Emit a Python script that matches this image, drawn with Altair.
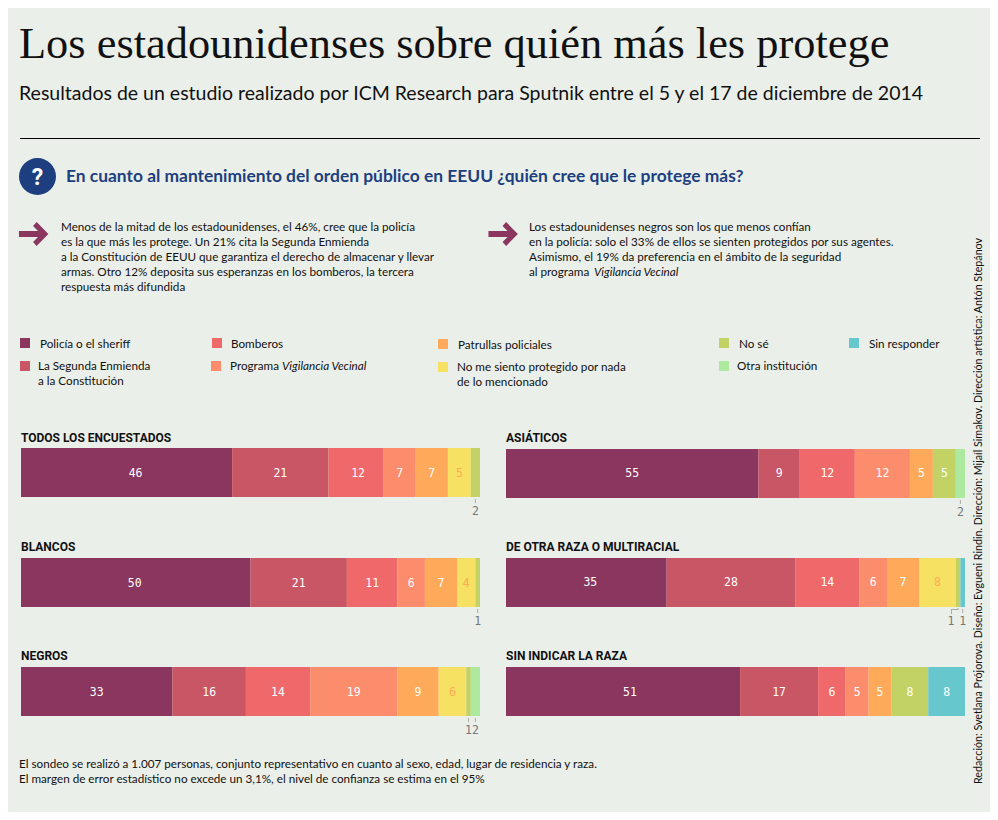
import altair as alt
import pandas as pd

BG = "#ebefe9"
categories = ["Policía o el sheriff", "La Segunda Enmienda a la Constitución", "Bomberos",
              "Programa Vigilancia Vecinal", "Patrullas policiales",
              "No me siento protegido por nada de lo mencionado", "No sé",
              "Otra institución", "Sin responder"]
colors = ["#8a365e", "#c95665", "#ef696b", "#fb8d6c", "#ffa95a", "#f6e162", "#c2d264", "#aee9a0", "#66c8cc"]

todos = [46, 21, 12, 7, 7, 5, 2, 0, 0]
asiaticos = [55, 9, 12, 12, 5, 0, 5, 2, 0]
blancos = [50, 21, 11, 6, 7, 4, 1, 0, 0]
otra_raza = [35, 28, 14, 6, 7, 8, 1, 0, 1]
negros = [33, 16, 14, 19, 9, 6, 1, 2, 0]
sin_indicar = [51, 17, 6, 5, 5, 0, 8, 0, 8]

# title, values, left, bar top, title baseline, label centre, per-category label nudges (in px)
panels = [
    ("TODOS LOS ENCUESTADOS", todos, 21, 448, 442, 474, {0: 9, 2: 2}),
    ("BLANCOS", blancos, 21, 558, 551, 584, {0: -1}),
    ("NEGROS", negros, 21, 667, 660, 693, {}),
    ("ASIÁTICOS", asiaticos, 506, 449, 442, 474, {}),
    ("DE OTRA RAZA O MULTIRACIAL", otra_raza, 506, 558, 551, 583, {0: 4}),
    ("SIN INDICAR LA RAZA", sin_indicar, 506, 667, 660, 693, {0: 7}),
]

OFF = 8
W, H = 982, 804
BODY = "Lato"
SERIF = "Liberation Serif"
HEAD = "Roboto"
BS = 11.7

one = alt.Data(values=[{"a": 1}])
layers = []


def txt(s, x, y, size=BS, font=BODY, color="#111111", **kw):
    layers.append(alt.Chart(one).mark_text(text=s, font=font, fontSize=size, color=color,
                                           align=kw.pop("align", "left"), baseline="alphabetic", **kw)
                  .encode(x=alt.value(x - OFF), y=alt.value(y - OFF)))


def rect(x, y, x2, y2, color):
    layers.append(alt.Chart(one).mark_rect(color=color)
                  .encode(x=alt.value(x - OFF), x2=alt.value(x2 - OFF),
                          y=alt.value(y - OFF), y2=alt.value(y2 - OFF)))


def hline(x, x2, y, color="#000000", w=1):
    layers.append(alt.Chart(one).mark_rule(color=color, strokeWidth=w)
                  .encode(x=alt.value(x - OFF), x2=alt.value(x2 - OFF), y=alt.value(y - OFF)))


# Header
txt("Los estadounidenses sobre quién más les protege", 19, 58, 44.4, SERIF, "#111111")
txt("Resultados de un estudio realizado por ICM Research para Sputnik entre el 5 y el 17 de diciembre de 2014",
    19, 100, 19.5, BODY)
hline(20, 980, 138.5)

layers.append(alt.Chart(one).mark_point(filled=True, opacity=1, color="#1d3f80", size=1370, shape="circle")
              .encode(x=alt.value(37.5 - OFF), y=alt.value(176.5 - OFF)))
txt("?", 37.5, 185, 23, "Roboto", "#ffffff", align="center", fontWeight="bold")
txt("En cuanto al mantenimiento del orden público en EEUU ¿quién cree que le protege más?",
    66, 182, 17.4, BODY, "#1d3f80", fontWeight="bold")

ARROW = "M-0.97,-0.2L0.3,-0.2L-0.03,-0.53L0.21,-0.8L0.99,0L0.21,0.8L-0.03,0.53L0.3,0.2L-0.97,0.2Z"
for ax in (33.5, 503):
    layers.append(alt.Chart(one).mark_point(filled=True, opacity=1, color="#8a365e", size=900, shape=ARROW)
                  .encode(x=alt.value(ax - OFF), y=alt.value(234 - OFF)))

left_par = ["Menos de la mitad de los estadounidenses, el 46%, cree que la policía",
            "es la que más les protege. Un 21% cita la Segunda Enmienda",
            "a la Constitución de EEUU que garantiza el derecho de almacenar y llevar",
            "armas. Otro 12% deposita sus esperanzas en los bomberos, la tercera",
            "respuesta más difundida"]
right_par = ["Los estadounidenses negros son los que menos confían",
             "en la policía: solo el 33% de ellos se sienten protegidos por sus agentes.",
             "Asimismo, el 19% da preferencia en el ámbito de la seguridad",
             "al programa "]
for i, s in enumerate(left_par):
    txt(s, 61, 231 + 15 * i)
for i, s in enumerate(right_par):
    txt(s, 529, 231 + 15 * i)
txt("Vigilancia Vecinal", 594, 276, fontStyle="italic")

# Legend
swatches = [(20, 338, 0), (20, 361, 1), (212, 338, 2), (211, 361, 3), (438, 339, 4),
            (438, 362, 5), (719, 338, 6), (719, 361, 7), (849, 338, 8)]
for x, y, c in swatches:
    rect(x, y, x + 10, y + 10, colors[c])
txt("Policía o el sheriff", 40, 348)
txt("La Segunda Enmienda", 38, 370)
txt("a la Constitución", 38, 385)
txt("Bomberos", 231, 348)
txt("Programa ", 230, 370)
txt("Vigilancia Vecinal", 282, 370, fontStyle="italic")
txt("Patrullas policiales", 458, 349)
txt("No me siento protegido por nada", 457, 371)
txt("de lo mencionado", 457, 386)
txt("No sé", 739, 348)
txt("Otra institución", 737, 370)
txt("Sin responder", 869, 348)

# Panels
color_scale = alt.Scale(domain=categories, range=colors)
BAR_W = 459
BAR_H = 49
for title, values, px, py, ty, ly, nudges in panels:
    txt(title, px, ty, 12, HEAD, "#111111", fontWeight="bold")
    rows = []
    start = 0
    for i, (c, v) in enumerate(zip(categories, values)):
        if v:
            rows.append({"cat": c, "i": i, "v": v, "start": start, "end": start + v,
                         "mid": start + v / 2,
                         "lab": start + v / 2 + nudges.get(i, 0) * 100 / BAR_W,
                         "tc": "#ffa95a" if i == 5 else "#ffffff"})
        start += v
    df = pd.DataFrame(rows)
    xs = alt.Scale(domain=[0, 100], range=[px - OFF, px + BAR_W - OFF])
    layers.append(alt.Chart(df).mark_rect().encode(
        x=alt.X("start:Q", scale=xs, axis=None), x2="end:Q",
        y=alt.value(py - OFF), y2=alt.value(py + BAR_H - OFF),
        color=alt.Color("cat:N", scale=color_scale, legend=None)))
    big = df[df.v > 2]
    layers.append(alt.Chart(big).mark_text(font="DejaVu Sans Mono", fontSize=11.5, baseline="middle").encode(
        x=alt.X("lab:Q", scale=xs, axis=None),
        y=alt.value(ly - OFF),
        color=alt.Color("tc:N", scale=None),
        text="v:Q"))
    small = df[df.v <= 2]
    elbow = title.startswith("DE OTRA")
    plain = small[small.i != 6] if elbow else small
    if len(plain):
        layers.append(alt.Chart(plain).mark_rule(color="#aaaaaa", strokeWidth=1).encode(
            x=alt.X("mid:Q", scale=xs, axis=None),
            y=alt.value(py + BAR_H + 2 - OFF), y2=alt.value(py + BAR_H + 6 - OFF)))
        layers.append(alt.Chart(plain).mark_text(font="DejaVu Sans Mono", fontSize=11.5, color="#777777",
                                                 baseline="alphabetic").encode(
            x=alt.X("mid:Q", scale=xs, axis=None),
            y=alt.value(py + BAR_H + 18 - OFF),
            text="v:Q"))
    if elbow:
        hline(951, 958, py + BAR_H + 2.5, "#aaaaaa")
        layers.append(alt.Chart(one).mark_rule(color="#aaaaaa").encode(
            x=alt.value(951.5 - OFF), y=alt.value(py + BAR_H + 2.5 - OFF), y2=alt.value(py + BAR_H + 7 - OFF)))
        layers.append(alt.Chart(one).mark_rule(color="#aaaaaa").encode(
            x=alt.value(958 - OFF), y=alt.value(py + BAR_H + 1 - OFF), y2=alt.value(py + BAR_H + 3 - OFF)))
        txt("1", 951, py + BAR_H + 18, 11.5, "DejaVu Sans Mono", "#777777", align="center")

# Footer
txt("El sondeo se realizó a 1.007 personas, conjunto representativo en cuanto al sexo, edad, lugar de residencia y raza.",
    19, 768)
txt("El margen de error estadístico no excede un 3,1%, el nivel de confianza se estima en el 95%", 19, 783)
txt("Redacción: Svetlana Prójorova. Diseño: Evgueni Rindin. Dirección: Mijaíl Simakov. Dirección artística: Antón Stepánov",
    982, 784, 10.7, angle=270)

chart = alt.layer(*layers).resolve_scale(x="independent").properties(
    width=W, height=H, padding=0, autosize=alt.AutoSizeParams(type="none"), background=BG
).configure_view(stroke=None)

chart.save("out.html", embed_options={"renderer": "svg", "actions": False})
